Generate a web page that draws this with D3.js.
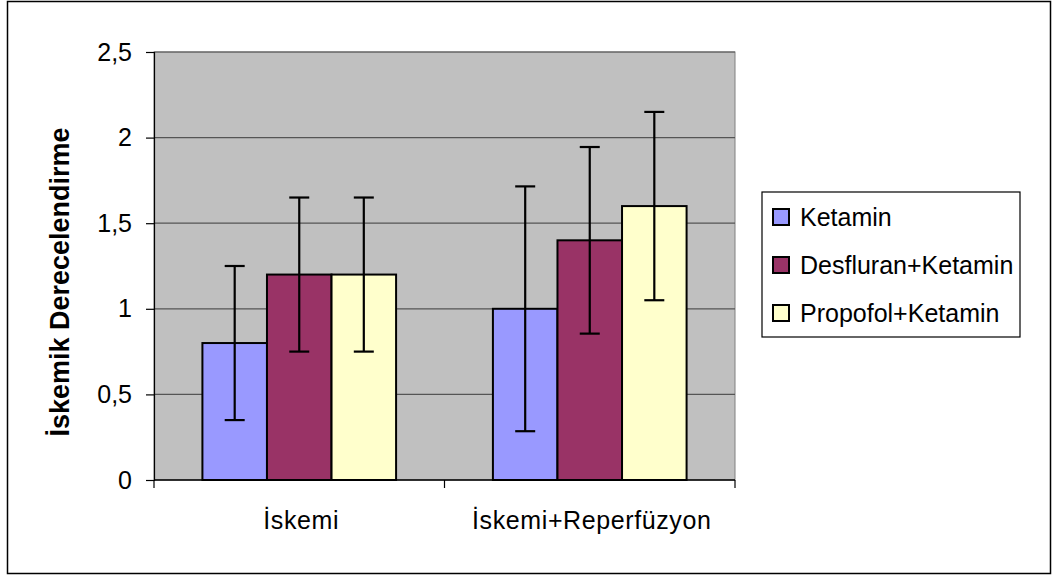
<!DOCTYPE html>
<html><head><meta charset="utf-8">
<script src="https://cdn.jsdelivr.net/npm/d3@7"></script>
<style>body{margin:0;background:#fff}svg{display:block}text{font-family:"Liberation Sans",Arial,sans-serif}</style>
</head><body><svg id="c" width="1054" height="577"></svg>
<script>
const categories = ["İskemi", "İskemi+Reperfüzyon"];
const seriesNames = ["Ketamin", "Desfluran+Ketamin", "Propofol+Ketamin"];
const ketamin = [0.8, 1.0];
const desfluran = [1.2, 1.4];
const propofol = [1.2, 1.6];
const ketaminErr = [0.45, 0.715];
const desfluranErr = [0.45, 0.545];
const propofolErr = [0.45, 0.55];
const yTicks = [0, 0.5, 1, 1.5, 2, 2.5];
const yTickLabels = ["0", "0,5", "1", "1,5", "2", "2,5"];
const colors = ["#9999FF", "#993366", "#FFFFCC"];
const yTitle = "İskemik Derecelendirme";

const values = [ketamin, desfluran, propofol];
const errs = [ketaminErr, desfluranErr, propofolErr];

const svg = d3.select("#c");
const L = 154, R = 735, T = 52, B = 480;

// outer border
svg.append("rect").attr("x", 7.5).attr("y", 1.5).attr("width", 1043).attr("height", 572)
  .attr("fill", "#fff").attr("stroke", "#000").attr("stroke-width", 1.5);

const x0 = d3.scaleBand().domain(categories).range([L, R]).paddingInner(0).paddingOuter(0);
const x1 = d3.scaleBand().domain(seriesNames).range([0, x0.bandwidth()]).paddingInner(0).paddingOuter(0.75);
const y = d3.scaleLinear().domain([0, 2.5]).range([B, T]);

// plot area
svg.append("rect").attr("x", L).attr("y", T).attr("width", R - L).attr("height", B - T)
  .attr("fill", "#C0C0C0").attr("stroke", "#808080").attr("stroke-width", 1);

// gridlines
svg.append("g").selectAll("line").data(yTicks.filter(d => d > 0)).join("line")
  .attr("x1", L).attr("x2", R).attr("y1", d => y(d)).attr("y2", d => y(d))
  .attr("stroke", "#555").attr("stroke-width", 1.2);

// bars
const rows = [];
categories.forEach((c, ci) => seriesNames.forEach((s, si) => rows.push({c, s, si, v: values[si][ci], e: errs[si][ci]})));
svg.append("g").selectAll("rect").data(rows).join("rect")
  .attr("x", d => x0(d.c) + x1(d.s)).attr("width", x1.bandwidth())
  .attr("y", d => y(d.v)).attr("height", d => y(0) - y(d.v))
  .attr("fill", d => colors[d.si]).attr("stroke", "#000").attr("stroke-width", 2);

// error bars
const eg = svg.append("g").attr("stroke", "#000").attr("stroke-width", 2.2);
rows.forEach(d => {
  const cx = x0(d.c) + x1(d.s) + x1.bandwidth() / 2;
  eg.append("line").attr("x1", cx).attr("x2", cx).attr("y1", y(d.v + d.e)).attr("y2", y(d.v - d.e));
  eg.append("line").attr("x1", cx - 10).attr("x2", cx + 10).attr("y1", y(d.v + d.e)).attr("y2", y(d.v + d.e));
  eg.append("line").attr("x1", cx - 10).attr("x2", cx + 10).attr("y1", y(d.v - d.e)).attr("y2", y(d.v - d.e));
});

// y axis
const yAxis = d3.axisLeft(y).tickValues(yTicks).tickSize(8).tickPadding(14)
  .tickFormat((d, i) => yTickLabels[i]);
const ya = svg.append("g").attr("transform", `translate(${L},0)`).call(yAxis);
ya.select(".domain").attr("stroke", "#000").attr("stroke-width", 1.2);
ya.selectAll(".tick line").attr("stroke", "#000").attr("stroke-width", 1.2);
ya.selectAll(".tick text").attr("font-size", 25).attr("fill", "#000")
  .attr("font-family", '"Liberation Sans",Arial,sans-serif');

// x axis
const xa = svg.append("g").attr("transform", `translate(0,${B})`);
xa.append("line").attr("x1", L).attr("x2", R).attr("stroke", "#000").attr("stroke-width", 1.5);
const bounds = [L, ...categories.map(c => x0(c) + x0.bandwidth())];
xa.selectAll("line.t").data(bounds).join("line").attr("class", "t")
  .attr("x1", d => d).attr("x2", d => d).attr("y1", 0).attr("y2", 8)
  .attr("stroke", "#000").attr("stroke-width", 1.2);
xa.selectAll("text").data(categories).join("text")
  .attr("x", d => x0(d) + x0.bandwidth() / 2 + 2).attr("y", 49)
  .attr("text-anchor", "middle").attr("font-size", 25).attr("letter-spacing", 0.6)
  .attr("fill", "#000").text(d => d);

// y title
svg.append("text").attr("transform", "translate(69,282) rotate(-90)")
  .attr("text-anchor", "middle").attr("font-size", 27).attr("font-weight", "bold")
  .attr("fill", "#000").text(yTitle);

// legend
const lg = svg.append("g");
lg.append("rect").attr("x", 762).attr("y", 192).attr("width", 258).attr("height", 145)
  .attr("fill", "#fff").attr("stroke", "#000").attr("stroke-width", 1.2);
const rowY = d3.scalePoint().domain(seriesNames).range([217, 313]);
seriesNames.forEach((s, i) => {
  lg.append("rect").attr("x", 773).attr("y", rowY(s) - 8).attr("width", 16).attr("height", 16)
    .attr("fill", colors[i]).attr("stroke", "#000").attr("stroke-width", 2);
  lg.append("text").attr("x", 800).attr("y", rowY(s) + 9).attr("font-size", 25).attr("fill", "#000").text(s);
});
</script></body></html>
